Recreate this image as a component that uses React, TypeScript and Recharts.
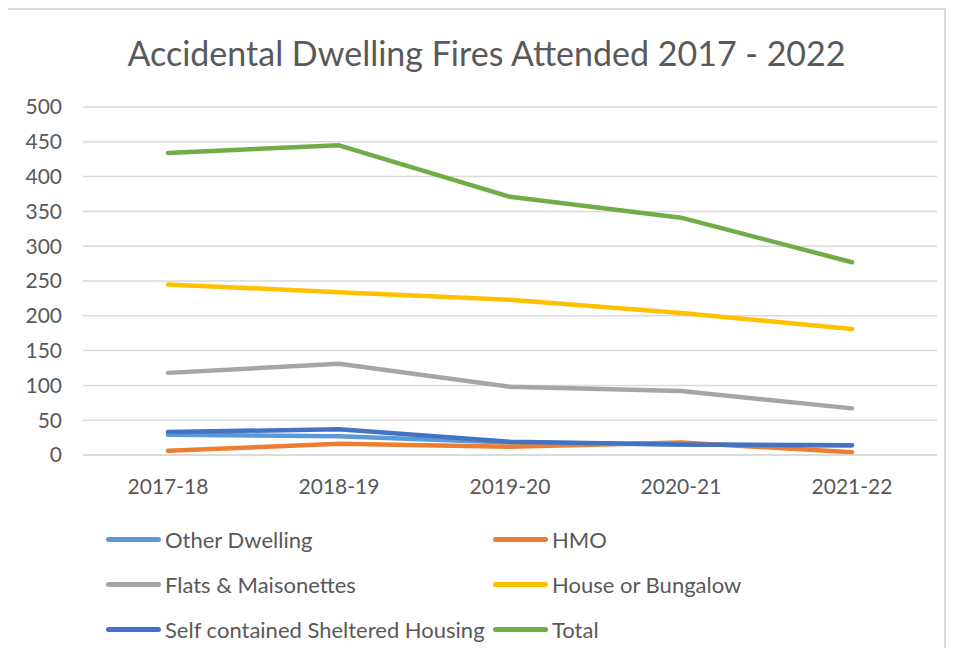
import React from 'react';
import { LineChart, Line, XAxis, YAxis, CartesianGrid } from 'recharts';

// Accidental dwelling fires attended, by property type, per financial year
const categories = ['2017-18', '2018-19', '2019-20', '2020-21', '2021-22'];
const otherDwelling = [29, 27, 18, 15, 14];
const hmo = [6, 16, 12, 18, 4];
const flatsMaisonettes = [118, 131, 98, 92, 67];
const houseBungalow = [245, 234, 223, 204, 181];
const selfContained = [33, 37, 19, 15, 14];
const total = [434, 445, 371, 341, 277];
const yTicks = [0, 50, 100, 150, 200, 250, 300, 350, 400, 450, 500];

const series = [
  { key: 'other', name: 'Other Dwelling', values: otherDwelling, color: '#5B9BD5' },
  { key: 'hmo', name: 'HMO', values: hmo, color: '#ED7D31' },
  { key: 'flats', name: 'Flats & Maisonettes', values: flatsMaisonettes, color: '#A5A5A5' },
  { key: 'house', name: 'House or Bungalow', values: houseBungalow, color: '#FFC000' },
  { key: 'sheltered', name: 'Self contained Sheltered Housing', values: selfContained, color: '#4472C4' },
  { key: 'total', name: 'Total', values: total, color: '#70AD47' },
];

const data = categories.map((name, i) => {
  const row: Record<string, string | number> = { name };
  series.forEach((s) => {
    row[s.key] = s.values[i];
  });
  return row;
});

const FONT = 'Lato, "Open Sans", sans-serif';
const TEXT = '#595959';

// two-column legend under the plot, same order as the series
function LegendGrid() {
  return (
    <div
      style={{
        position: 'absolute',
        left: 106,
        top: 517,
        display: 'grid',
        gridTemplateColumns: '387px auto',
        gridAutoRows: '45px',
        alignItems: 'center',
        fontFamily: FONT,
        fontSize: 22,
        color: TEXT,
      }}
    >
      {series.map((s) => (
        <div key={s.key} style={{ display: 'flex', alignItems: 'center', whiteSpace: 'nowrap' }}>
          <span
            style={{
              display: 'inline-block',
              width: 55,
              height: 5,
              borderRadius: 3,
              background: s.color,
              marginRight: 4,
            }}
          />
          <span>{s.name}</span>
        </div>
      ))}
    </div>
  );
}

export default function App() {
  return (
    <div
      style={{
        position: 'relative',
        width: 955,
        height: 656,
        margin: -8,
        background: '#fff',
        overflow: 'hidden',
      }}
    >
      <div
        style={{
          position: 'absolute',
          left: 5,
          top: 8,
          width: 937,
          height: 700,
          border: '2px solid #d9d9d9',
        }}
      />
      <div
        style={{
          position: 'absolute',
          left: 0,
          width: 973,
          top: 36,
          textAlign: 'center',
          fontFamily: FONT,
          fontSize: 34,
          lineHeight: 1,
          color: TEXT,
        }}
      >
        Accidental Dwelling Fires Attended 2017 - 2022
      </div>
      <div style={{ position: 'absolute', left: 0, top: 0 }}>
        <LineChart
          width={955}
          height={656}
          data={data}
          margin={{ top: 107, right: 18, left: 23, bottom: 171 }}
        >
          <CartesianGrid vertical={false} stroke="#d9d9d9" strokeWidth={1.5} />
          <XAxis
            dataKey="name"
            height={30}
            padding={{ left: 85, right: 85 }}
            axisLine={{ stroke: '#d9d9d9', strokeWidth: 1.5 }}
            tickLine={false}
            tickMargin={18}
            tick={{ fontSize: 21, fill: TEXT, fontFamily: FONT }}
          />
          <YAxis
            width={60}
            domain={[0, 500]}
            ticks={yTicks}
            interval={0}
            axisLine={false}
            tickLine={false}
            tickMargin={15}
            tick={{ fontSize: 21, fill: TEXT, fontFamily: FONT }}
          />
          {series.map((s) => (
            <Line
              key={s.key}
              type="linear"
              dataKey={s.key}
              name={s.name}
              stroke={s.color}
              strokeWidth={4.5}
              strokeLinecap="round"
              strokeLinejoin="round"
              dot={false}
              activeDot={false}
              isAnimationActive={false}
            />
          ))}
        </LineChart>
      </div>
      <LegendGrid />
    </div>
  );
}
